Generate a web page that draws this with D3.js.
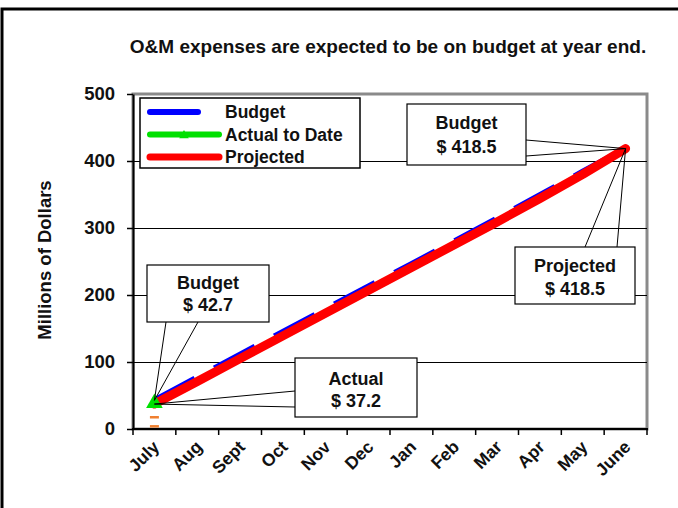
<!DOCTYPE html>
<html>
<head>
<meta charset="utf-8">
<script src="https://cdn.jsdelivr.net/npm/d3@7"></script>
<style>
	body { margin: 0; background: #fff; }
	text { font-family: "Liberation Sans", Arial, sans-serif; fill: #111; }
</style>
</head>
<body>
<div id="chart"></div>
<script>
var width = 678;
var height = 508;

// data
var months = ["July", "Aug", "Sept", "Oct", "Nov", "Dec", "Jan", "Feb", "Mar", "Apr", "May", "June"];
var budget = [42.7, 77, 111, 145, 179, 213, 246, 280, 314, 349, 384, 418.5];
var projected = [37.2, 71, 105, 139, 173, 207, 241, 275, 309, 344, 380, 418.5];
var actualToDate = [37.2];
var smallMarks = [17.5, 4]; // little orange dashes under July
var yTicks = [0, 100, 200, 300, 400, 500];

var svg = d3
	.select("#chart")
	.append("svg")
	.attr("width", width)
	.attr("height", height);

var margins = { left: 133, right: 31, top: 94, bottom: 79 };
var plotRight = width - margins.right;
var plotBottom = height - margins.bottom;

// outer frame
svg.append("rect")
	.attr("x", 2)
	.attr("y", 9)
	.attr("width", 700)
	.attr("height", 520)
	.attr("fill", "none")
	.attr("stroke", "#000")
	.attr("stroke-width", 3);

svg.append("text")
	.attr("x", 388)
	.attr("y", 53)
	.attr("text-anchor", "middle")
	.attr("font-size", "19px")
	.attr("font-weight", "bold")
	.text("O&M expenses are expected to be on budget at year end.");

var xscale = d3.scaleBand().domain(months).range([margins.left, plotRight]).padding(0);
var yscale = d3.scaleLinear().domain([0, 500]).range([plotBottom, margins.top]);
var xc = (m) => xscale(m) + xscale.bandwidth() / 2;

// plot border
svg.append("rect")
	.attr("x", margins.left)
	.attr("y", margins.top)
	.attr("width", plotRight - margins.left)
	.attr("height", plotBottom - margins.top)
	.attr("fill", "#fff")
	.attr("stroke", "#8a8a8a")
	.attr("stroke-width", 3);

// gridlines
svg.append("g")
	.selectAll("line")
	.data(yTicks.filter((d) => d > 0 && d < 500))
	.enter()
	.append("line")
	.attr("x1", margins.left)
	.attr("x2", plotRight)
	.attr("y1", (d) => Math.round(yscale(d)) + 0.5)
	.attr("y2", (d) => Math.round(yscale(d)) + 0.5)
	.attr("stroke", "#000")
	.attr("stroke-width", 1);

// y axis
var yaxis = svg.append("g")
	.attr("transform", `translate(${margins.left},0)`)
	.call(d3.axisLeft(yscale).tickValues(yTicks).tickSize(6).tickPadding(12).tickSizeOuter(0));
yaxis.select(".domain").attr("stroke", "#000").attr("stroke-width", 2);
yaxis.selectAll(".tick line").attr("stroke", "#000").attr("stroke-width", 1.5);
yaxis.selectAll("text")
	.attr("font-size", "18.5px")
	.attr("font-weight", "bold")
	.attr("font-family", "Liberation Sans, Arial, sans-serif")
	.attr("fill", "#111");

svg.append("text")
	.attr("transform", "translate(51,260) rotate(-90)")
	.attr("text-anchor", "middle")
	.attr("font-size", "18.5px")
	.attr("font-weight", "bold")
	.text("Millions of Dollars");

// x axis
svg.append("line")
	.attr("x1", margins.left - 1)
	.attr("x2", plotRight + 1)
	.attr("y1", plotBottom)
	.attr("y2", plotBottom)
	.attr("stroke", "#000")
	.attr("stroke-width", 2);

var bounds = months.map((m) => xscale(m)).concat([plotRight]);
svg.append("g")
	.selectAll("line")
	.data(bounds)
	.enter()
	.append("line")
	.attr("x1", (d) => d)
	.attr("x2", (d) => d)
	.attr("y1", plotBottom)
	.attr("y2", plotBottom + 6)
	.attr("stroke", "#000")
	.attr("stroke-width", 1.5);

svg.append("g")
	.selectAll("text")
	.data(months)
	.enter()
	.append("text")
	.attr("transform", (d) => `translate(${xc(d) + 6},${plotBottom + 19}) rotate(-45)`)
	.attr("text-anchor", "end")
	.attr("font-size", "17.5px")
	.attr("font-weight", "bold")
	.text((d) => d);

// series
var line = d3.line()
	.x((d, i) => xc(months[i]))
	.y((d) => yscale(d));

svg.append("path")
	.datum(budget)
	.attr("d", line)
	.attr("fill", "none")
	.attr("stroke", "#0000ff")
	.attr("stroke-width", 6)
	.attr("stroke-dasharray", "46,22");

svg.append("path")
	.datum(projected)
	.attr("d", line)
	.attr("fill", "none")
	.attr("stroke", "#ff0000")
	.attr("stroke-width", 9)
	.attr("stroke-linejoin", "round")
	.attr("stroke-linecap", "round");

svg.append("g")
	.selectAll("path")
	.data(actualToDate)
	.enter()
	.append("path")
	.attr("d", d3.symbol().type(d3.symbolTriangle).size(120))
	.attr("transform", (d, i) => `translate(${xc(months[i])},${yscale(d) - 1})`)
	.attr("fill", "#00e000");

svg.append("g")
	.selectAll("line")
	.data(smallMarks)
	.enter()
	.append("line")
	.attr("x1", xc(months[0]) - 4.5)
	.attr("x2", xc(months[0]) + 4.5)
	.attr("y1", (d) => yscale(d))
	.attr("y2", (d) => yscale(d))
	.attr("stroke", "#f08030")
	.attr("stroke-width", 2.5);

// callouts
var callouts = [
	{ box: [147, 265, 122, 57], lines: [["Budget", 289], ["$ 42.7", 311]], from: [[166, 322], [198, 322]], to: [xc(months[0]), yscale(budget[0])] },
	{ box: [295, 358, 122, 59], lines: [["Actual", 385], ["$ 37.2", 407]], from: [[295, 391], [295, 407]], to: [xc(months[0]), yscale(actualToDate[0])] },
	{ box: [407, 104, 119, 61], lines: [["Budget", 129], ["$ 418.5", 153]], from: [[526, 140], [526, 156]], to: [xc(months[11]), yscale(budget[11])] },
	{ box: [515, 247, 120, 57], lines: [["Projected", 272], ["$ 418.5", 295]], from: [[585, 247], [617, 247]], to: [xc(months[11]), yscale(projected[11])] },
];

callouts.forEach((c) => {
	var g = svg.append("g");
	c.from.forEach((p) => {
		g.append("line")
			.attr("x1", p[0])
			.attr("y1", p[1])
			.attr("x2", c.to[0])
			.attr("y2", c.to[1])
			.attr("stroke", "#000")
			.attr("stroke-width", 1);
	});
	g.append("rect")
		.attr("x", c.box[0])
		.attr("y", c.box[1])
		.attr("width", c.box[2])
		.attr("height", c.box[3])
		.attr("fill", "#fff")
		.attr("stroke", "#000")
		.attr("stroke-width", 1.2);
	c.lines.forEach((t) => {
		g.append("text")
			.attr("x", c.box[0] + c.box[2] / 2)
			.attr("y", t[1])
			.attr("text-anchor", "middle")
			.attr("font-size", "18px")
			.attr("font-weight", "bold")
			.text(t[0]);
	});
});

// legend
var legend = svg.append("g");
legend.append("rect")
	.attr("x", 140)
	.attr("y", 98)
	.attr("width", 220)
	.attr("height", 70)
	.attr("fill", "#fff")
	.attr("stroke", "#000")
	.attr("stroke-width", 1.5);

var legendItems = [
	{ name: "Budget", color: "#0000ff", x2: 198, w: 6 },
	{ name: "Actual to Date", color: "#00e000", x2: 219, w: 6 },
	{ name: "Projected", color: "#ff0000", x2: 219, w: 7 },
];
legendItems.forEach((d, i) => {
	var y = 112 + i * 22.5;
	legend.append("line")
		.attr("x1", 150)
		.attr("x2", d.x2)
		.attr("y1", y)
		.attr("y2", y)
		.attr("stroke", d.color)
		.attr("stroke-width", d.w)
		.attr("stroke-linecap", "round");
	if (d.name == "Actual to Date") {
		legend.append("path")
			.attr("d", d3.symbol().type(d3.symbolTriangle).size(40))
			.attr("transform", `translate(184,${y + 1})`)
			.attr("fill", d.color);
	}
	legend.append("text")
		.attr("x", 225)
		.attr("y", y + 6)
		.attr("font-size", "17.5px")
		.attr("font-weight", "bold")
		.text(d.name);
});
</script>
</body>
</html>
